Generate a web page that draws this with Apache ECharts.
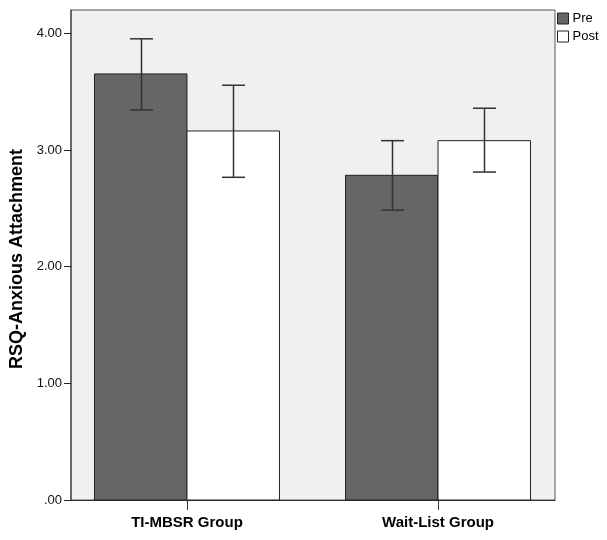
<!DOCTYPE html>
<html>
<head>
<meta charset="utf-8">
<script src="https://cdn.jsdelivr.net/npm/echarts@6/dist/echarts.min.js"></script>
<style>
html,body{margin:0;padding:0;background:#fff;}
#chart{width:607px;height:540px;}
</style>
</head>
<body>
<div id="chart"></div>
<script>
const categories = ['TI-MBSR Group', 'Wait-List Group'];
const seriesNames = ['Pre', 'Post'];
const preMeans = [3.652, 2.783];
const postMeans = [3.163, 3.080];
const preLower = [3.343, 2.485];
const preUpper = [3.953, 3.080];
const postLower = [2.766, 2.811];
const postUpper = [3.555, 3.358];
const yTickValues = [0, 1, 2, 3, 4];
const yTickLabels = ['.00', '1.00', '2.00', '3.00', '4.00'];

const BAR_W = 92.5;
const CAP_W = 23;
const colors = { Pre: '#666666', Post: '#ffffff' };

function barRenderer(side) {
  return function (params, api) {
    const x = api.value(0), v = api.value(1);
    const top = api.coord([x, v]);
    const base = api.coord([x, 0]);
    const x0 = side < 0 ? top[0] - BAR_W : top[0];
    return {
      type: 'rect',
      shape: { x: x0, y: top[1], width: BAR_W, height: base[1] - top[1] },
      style: { fill: side < 0 ? colors.Pre : colors.Post, stroke: '#222', lineWidth: 1 }
    };
  };
}

function errRenderer(side) {
  return function (params, api) {
    const x = api.value(0);
    const lo = api.coord([x, api.value(1)]);
    const hi = api.coord([x, api.value(2)]);
    const cx = Math.round(lo[0] + side * BAR_W / 2) + 0.5;
    const st = { stroke: '#333', lineWidth: 1.5 };
    return {
      type: 'group',
      children: [
        { type: 'line', shape: { x1: cx, y1: hi[1], x2: cx, y2: lo[1] }, style: st },
        { type: 'line', shape: { x1: cx - CAP_W / 2, y1: hi[1], x2: cx + CAP_W / 2, y2: hi[1] }, style: st },
        { type: 'line', shape: { x1: cx - CAP_W / 2, y1: lo[1], x2: cx + CAP_W / 2, y2: lo[1] }, style: st }
      ]
    };
  };
}

const chart = echarts.init(document.getElementById('chart'), null, { renderer: 'canvas' });
chart.setOption({
  animation: false,
  textStyle: { fontFamily: 'Liberation Sans, Arial, sans-serif' },
  grid: {
    left: 71, right: 52, top: 10, bottom: 40,
    outerBoundsMode: 'none', containLabel: false,
    show: true, backgroundColor: '#f0f0f0', borderColor: '#555', borderWidth: 1
  },
  legend: {
    orient: 'vertical', left: 557, top: 12, padding: 0,
    itemWidth: 11, itemHeight: 11, itemGap: 5,
    textStyle: { fontSize: 13, color: '#000', padding: [0, 0, 0, -1] },
    data: [
      { name: 'Pre', icon: 'rect', itemStyle: { color: colors.Pre, borderColor: '#222', borderWidth: 1 } },
      { name: 'Post', icon: 'rect', itemStyle: { color: colors.Post, borderColor: '#222', borderWidth: 1 } }
    ]
  },
  xAxis: {
    type: 'value', min: -0.462, max: 1.466,
    splitLine: { show: false },
    axisLine: { show: true, onZero: false, lineStyle: { color: '#333', width: 1 } },
    axisTick: { show: true, length: 10, customValues: [0, 1], lineStyle: { color: '#333' } },
    axisLabel: {
      customValues: [0, 1], margin: 15,
      formatter: v => categories[Math.round(v)],
      fontSize: 15, fontWeight: 'bold', color: '#000'
    }
  },
  yAxis: {
    type: 'value', min: 0, max: 4.2,
    name: 'RSQ-Anxious Attachment', nameLocation: 'middle', nameGap: 44,
    nameTextStyle: { fontSize: 18, fontWeight: 'bold', color: '#000', padding: [0, 8, 0, 0] },
    splitLine: { show: false },
    axisLine: { show: true, onZero: false, lineStyle: { color: '#555', width: 1.5 } },
    axisTick: { show: true, length: 7, customValues: yTickValues, lineStyle: { color: '#222' } },
    axisLabel: {
      customValues: yTickValues, margin: 9, fontSize: 13, color: '#111',
      formatter: v => yTickLabels[yTickValues.indexOf(v)]
    }
  },
  series: [
    {
      name: 'Pre', type: 'custom', renderItem: barRenderer(-1),
      itemStyle: { color: colors.Pre },
      encode: { x: 0, y: 1 },
      data: categories.map((c, i) => [i, preMeans[i]])
    },
    {
      name: 'Post', type: 'custom', renderItem: barRenderer(1),
      itemStyle: { color: colors.Post },
      encode: { x: 0, y: 1 },
      data: categories.map((c, i) => [i, postMeans[i]])
    },
    {
      name: 'Pre CI', type: 'custom', renderItem: errRenderer(-1), z: 5,
      encode: { x: 0, y: [1, 2] },
      data: categories.map((c, i) => [i, preLower[i], preUpper[i]])
    },
    {
      name: 'Post CI', type: 'custom', renderItem: errRenderer(1), z: 5,
      encode: { x: 0, y: [1, 2] },
      data: categories.map((c, i) => [i, postLower[i], postUpper[i]])
    }
  ]
});
</script>
</body>
</html>
